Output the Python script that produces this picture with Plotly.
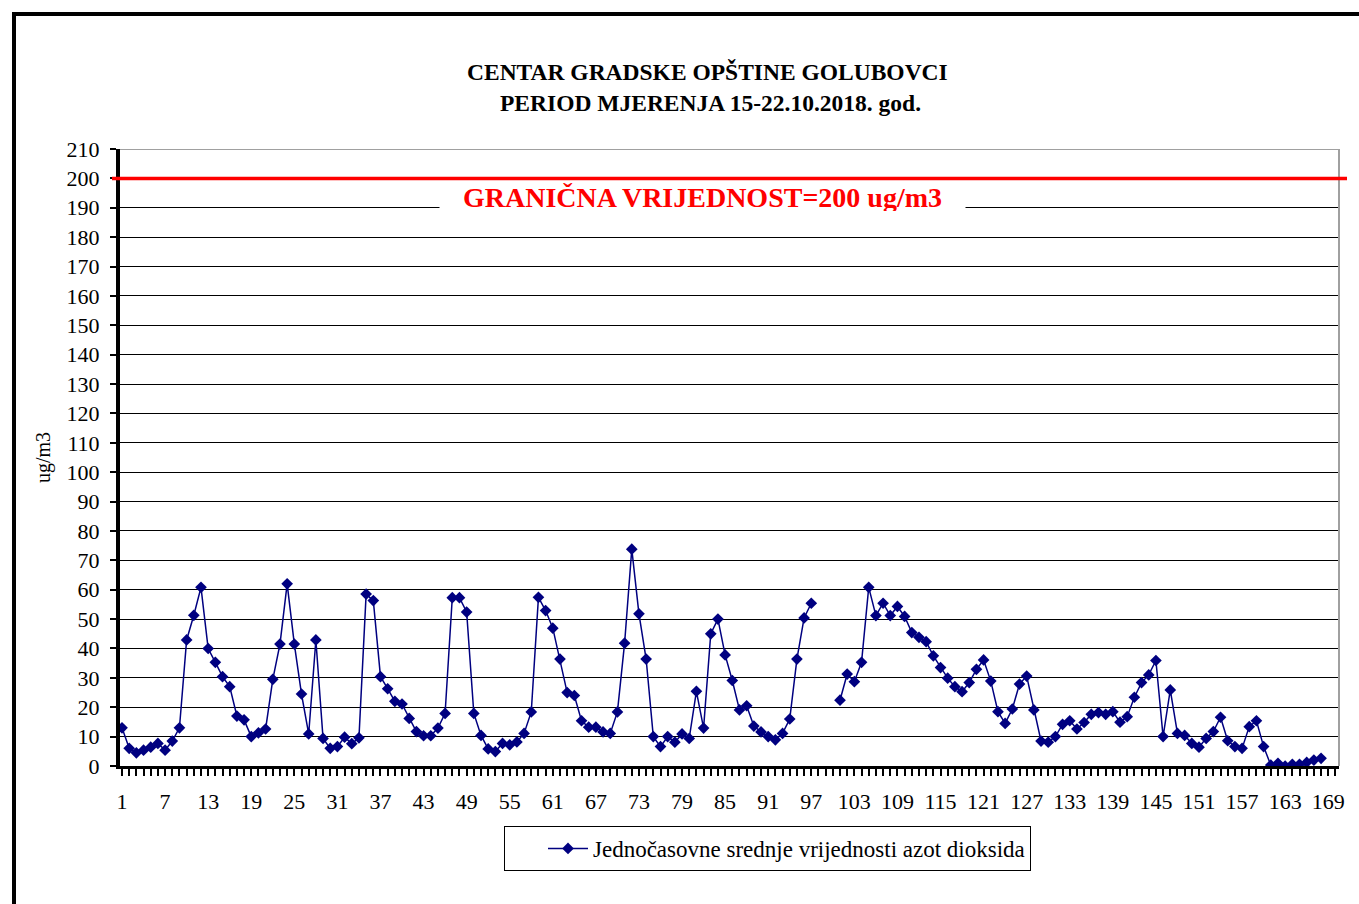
import plotly.graph_objects as go

hours = list(range(1, 169))
no2 = [
    13.0, 6.0, 4.5, 5.4, 6.4, 7.7, 5.4, 8.5, 13.0, 42.9,
    51.3, 60.8, 40.0, 35.3, 30.4, 27.0, 17.0, 15.7, 10.0, 11.3,
    12.6, 29.5, 41.5, 62.0, 41.5, 24.5, 10.9, 42.9, 9.4, 6.0,
    6.6, 9.8, 7.6, 9.6, 58.5, 56.3, 30.4, 26.3, 22.0, 21.1,
    16.2, 11.7, 10.3, 10.3, 12.9, 17.9, 57.3, 57.3, 52.4, 17.9,
    10.4, 5.8, 4.9, 7.7, 7.2, 8.2, 11.1, 18.4, 57.4, 52.9,
    46.9, 36.4, 25.0, 24.0, 15.4, 13.2, 13.2, 11.6, 11.1, 18.4,
    41.8, 73.8, 51.8, 36.4, 10.0, 6.6, 10.0, 8.1, 10.9, 9.4,
    25.4, 12.9, 45.0, 50.0, 37.8, 29.1, 19.1, 20.5, 13.6, 11.6,
    10.0, 8.9, 11.1, 16.0, 36.4, 50.4, 55.4, None, None, None,
    22.4, 31.3, 28.7, 35.3, 60.8, 51.2, 55.4, 51.2, 54.3, 50.9,
    45.4, 43.8, 42.3, 37.5, 33.5, 29.9, 27.0, 25.3, 28.4, 32.9,
    36.1, 28.9, 18.5, 14.5, 19.4, 27.9, 30.6, 19.1, 8.5, 8.1,
    10.0, 14.2, 15.4, 12.6, 14.8, 17.6, 18.2, 17.6, 18.5, 14.9,
    16.8, 23.4, 28.4, 31.0, 35.9, 10.0, 25.9, 11.1, 10.4, 7.7,
    6.4, 9.4, 11.7, 16.6, 8.6, 6.6, 6.0, 13.4, 15.4, 6.6,
    0.3, 0.9, 0.0, 0.6, 0.6, 1.2, 2.0, 2.6,
]
x_tick_labels = list(range(1, 170, 6))
y_tick_labels = list(range(0, 211, 10))
limit_value = 200
series_name = "Jednočasovne srednje vrijednosti azot dioksida"
title_lines = ["CENTAR GRADSKE OPŠTINE GOLUBOVCI", "PERIOD MJERENJA 15-22.10.2018. god."]
limit_label = "GRANIČNA VRIJEDNOST=200 ug/m3"
y_title = "ug/m3"

FONT = "Liberation Serif"
NAVY = "#000080"

# pixel helpers for layout (plot area: x 120..1339, y 149..766)
L, R, T, B = 120, 1339, 149, 766
def px_x(p):
    return (p - L) / (R - L)
def px_y(p):
    return (B - p) / (B - T)

fig = go.Figure()
fig.add_trace(go.Scatter(
    x=hours, y=no2, mode="lines+markers", name=series_name,
    line=dict(color=NAVY, width=1.5),
    marker=dict(symbol="diamond", size=9, color=NAVY),
    connectgaps=False,
))

fig.update_layout(
    width=1359, height=904,
    margin=dict(l=L, r=1359 - R, t=T, b=904 - B),
    paper_bgcolor="white", plot_bgcolor="white",
    font=dict(family=FONT, size=21, color="black"),
    showlegend=True,
    legend=dict(
        x=px_x(504), y=px_y(826), xanchor="left", yanchor="top",
        bordercolor="black", borderwidth=1, bgcolor="white",
        font=dict(family=FONT, size=23, color="black"),
        itemwidth=40, indentation=38,
    ),
    xaxis=dict(
        range=[0.72, 170.5],
        tickmode="array", tickvals=x_tick_labels, ticktext=[str(v) for v in x_tick_labels],
        ticks="outside", ticklen=7, tickwidth=2, tickcolor="black",
        showgrid=False, zeroline=False,
        showline=True, linecolor="black", linewidth=3,
        ticklabelstandoff=7,
        tickfont=dict(family=FONT, size=22),
        minor=dict(tickmode="array", tickvals=hours + [169, 170],
                   ticks="outside", ticklen=7, tickwidth=2, tickcolor="black",
                   showgrid=False),
    ),
    yaxis=dict(
        range=[0, 210],
        tickmode="array", tickvals=y_tick_labels, ticktext=[str(v) for v in y_tick_labels],
        ticks="outside", ticklen=6, tickwidth=2, tickcolor="black",
        showgrid=True, gridcolor="black", gridwidth=1,
        zeroline=False,
        showline=True, linecolor="black", linewidth=4,
        ticklabelstandoff=6,
        tickfont=dict(family=FONT, size=22),
        title=dict(text=y_title, font=dict(family=FONT, size=20), standoff=12),
    ),
)

shapes = [
    # outer frame
    dict(type="rect", xref="paper", yref="paper",
         x0=px_x(14), x1=px_x(1380), y0=px_y(920), y1=px_y(14),
         line=dict(color="black", width=4), layer="above"),
    # top and right plot borders (gray)
    dict(type="line", xref="paper", yref="y", x0=0, x1=1, y0=210, y1=210,
         line=dict(color="#a0a0a0", width=2), layer="above"),
    dict(type="line", xref="paper", yref="y", x0=1, x1=1, y0=0, y1=210,
         line=dict(color="#a0a0a0", width=2), layer="above"),
    # limit line
    dict(type="line", xref="paper", yref="y", x0=px_x(112), x1=px_x(1347),
         y0=limit_value, y1=limit_value, line=dict(color="#ff0000", width=3.5),
         layer="above"),
]
fig.update_layout(shapes=shapes)

fig.add_annotation(
    x=px_x(702), y=limit_value - 6.5, xref="paper", yref="y",
    text="<b>" + limit_label + "</b>", showarrow=False,
    font=dict(family=FONT, size=28, color="#ff0000"),
    bgcolor="white", width=525, height=28, borderpad=0,
)
fig.add_annotation(
    x=px_x(707), y=px_y(72), xref="paper", yref="paper",
    xanchor="center", yanchor="middle",
    text="<b>" + title_lines[0] + "</b>", showarrow=False,
    font=dict(family=FONT, size=23.5, color="black"),
)
fig.add_annotation(
    x=px_x(710), y=px_y(103), xref="paper", yref="paper",
    xanchor="center", yanchor="middle",
    text="<b>" + title_lines[1] + "</b>", showarrow=False,
    font=dict(family=FONT, size=23.5, color="black"),
)

fig.write_html("out.html", config={"displayModeBar": False},
               post_script="document.body.style.margin='0px';")
